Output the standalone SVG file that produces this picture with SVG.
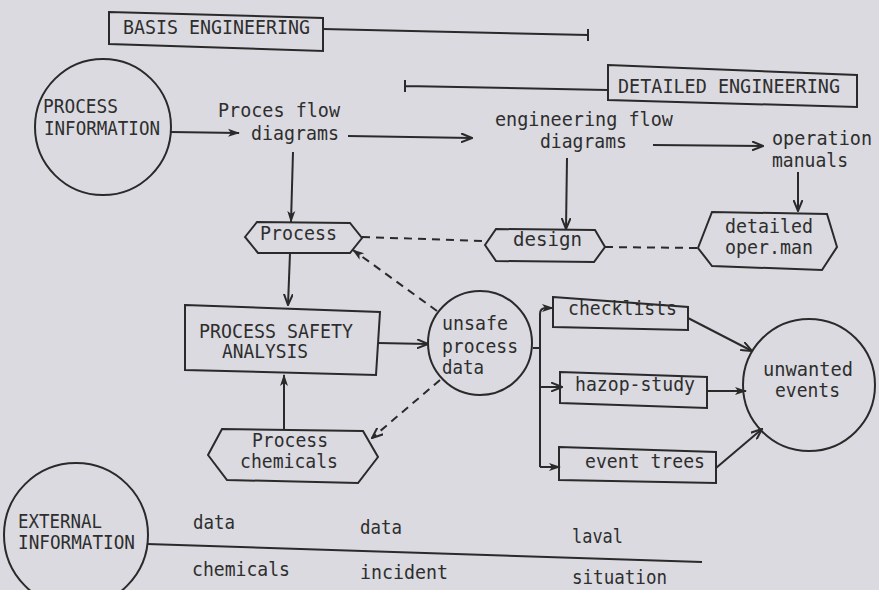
<svg xmlns="http://www.w3.org/2000/svg" width="879" height="590" viewBox="0 0 879 590">
<defs>
<style>
.bg{fill:#dadae0}
.sh{fill:none;stroke:#2a2a2a;stroke-width:2}
.ln{fill:none;stroke:#2a2a2a;stroke-width:2}
.ds{fill:none;stroke:#2a2a2a;stroke-width:2;stroke-dasharray:8,6}
.t{font-family:"DejaVu Sans Mono","Liberation Mono",monospace;font-size:19px;fill:#2e2e2e}
</style>
<marker id="ao" viewBox="0 0 12 10" refX="11" refY="5" markerWidth="12" markerHeight="10" markerUnits="userSpaceOnUse" orient="auto">
<path d="M0,0.5 L11,5 L0,9.5" fill="none" stroke="#2a2a2a" stroke-width="2"/>
</marker>
<marker id="af" viewBox="0 0 12 10" refX="11" refY="5" markerWidth="12" markerHeight="10" markerUnits="userSpaceOnUse" orient="auto">
<path d="M0,1 L12,5 L0,9 L3,5 Z" fill="#2a2a2a"/>
</marker>
</defs>
<rect class="bg" x="0" y="0" width="879" height="590"/>

<g id="connectors">
<path class="ln" d="M323,29 L588,35 M588,29 L588,41"/>
<path class="ln" d="M607,90 L405,86 M405,80 L405,92"/>
<path class="ln" d="M171,132 L239,133" marker-end="url(#af)"/>
<path class="ln" d="M348,136 L472,138" marker-end="url(#ao)"/>
<path class="ln" d="M653,145 L763,146" marker-end="url(#ao)"/>
<path class="ln" d="M293,152 L291,222" marker-end="url(#af)"/>
<path class="ln" d="M567,158 L566,229" marker-end="url(#ao)"/>
<path class="ln" d="M798,172 L798,211" marker-end="url(#ao)"/>
<path class="ln" d="M290,253 L288,305" marker-end="url(#ao)"/>
<path class="ln" d="M284,429 L284,375" marker-end="url(#af)"/>
<path class="ln" d="M378,343 L428,344" marker-end="url(#ao)"/>
<path class="ds" d="M362,237 L485,241"/>
<path class="ds" d="M605,247 L698,248"/>
<path class="ds" d="M437,311 L353,250" marker-end="url(#af)"/>
<path class="ds" d="M440,380 L372,438" marker-end="url(#ao)"/>
<path class="ln" d="M533,348 L540,348"/>
<path class="ln" d="M540,467 L540,314 Q540,308 546,308 L553,308" marker-end="url(#af)"/>
<path class="ln" d="M540,387 L562,387" marker-end="url(#ao)"/>
<path class="ln" d="M540,467 L560,467" marker-end="url(#af)"/>
<path class="ln" d="M688,318 L752,351" marker-end="url(#ao)"/>
<path class="ln" d="M707,391 L746,391" marker-end="url(#af)"/>
<path class="ln" d="M716,468 L762,429" marker-end="url(#ao)"/>
<path class="ln" d="M147,544 L702,562"/>
</g>

<g id="basis-engineering">
<polygon class="sh" points="109,12 323,18 323,51 109,44"/>
<text class="t" x="123" y="34" textLength="187" lengthAdjust="spacingAndGlyphs">BASIS ENGINEERING</text>
</g>
<g id="detailed-engineering">
<polygon class="sh" points="608,65 857,75 857,107 608,100"/>
<text class="t" x="618" y="93" textLength="222" lengthAdjust="spacingAndGlyphs">DETAILED ENGINEERING</text>
</g>
<g id="process-information">
<circle class="sh" cx="103" cy="127" r="68"/>
<text class="t" x="43" y="113" textLength="75" lengthAdjust="spacingAndGlyphs">PROCESS</text>
<text class="t" x="44" y="135" textLength="116" lengthAdjust="spacingAndGlyphs">INFORMATION</text>
</g>
<g id="proces-flow-diagrams">
<text class="t" x="218" y="117" textLength="122" lengthAdjust="spacingAndGlyphs">Proces flow</text>
<text class="t" x="251" y="140" textLength="88" lengthAdjust="spacingAndGlyphs">diagrams</text>
</g>
<g id="engineering-flow-diagrams">
<text class="t" x="495" y="126" textLength="178" lengthAdjust="spacingAndGlyphs">engineering flow</text>
<text class="t" x="540" y="148" textLength="87" lengthAdjust="spacingAndGlyphs">diagrams</text>
</g>
<g id="operation-manuals">
<text class="t" x="772" y="145" textLength="100" lengthAdjust="spacingAndGlyphs">operation</text>
<text class="t" x="772" y="167" textLength="76" lengthAdjust="spacingAndGlyphs">manuals</text>
</g>
<g id="process">
<polygon class="sh" points="245,237 257,222 350,223 362,238 350,253 258,253"/>
<text class="t" x="260" y="240" textLength="77" lengthAdjust="spacingAndGlyphs">Process</text>
</g>
<g id="design">
<polygon class="sh" points="485,245 496,229 595,230 605,247 594,262 496,261"/>
<text class="t" x="513" y="246" textLength="69" lengthAdjust="spacingAndGlyphs">design</text>
</g>
<g id="detailed-oper-man">
<polygon class="sh" points="698,248 712,212 827,214 837,247 822,270 712,266"/>
<text class="t" x="725" y="233" textLength="88" lengthAdjust="spacingAndGlyphs">detailed</text>
<text class="t" x="725" y="254" textLength="88" lengthAdjust="spacingAndGlyphs">oper.man</text>
</g>
<g id="process-safety-analysis">
<polygon class="sh" points="185,305 380,312 376,375 185,370"/>
<text class="t" x="199" y="338" textLength="154" lengthAdjust="spacingAndGlyphs">PROCESS SAFETY</text>
<text class="t" x="222" y="358" textLength="86" lengthAdjust="spacingAndGlyphs">ANALYSIS</text>
</g>
<g id="unsafe-process-data">
<circle class="sh" cx="480" cy="343" r="52"/>
<text class="t" x="442" y="330" textLength="66" lengthAdjust="spacingAndGlyphs">unsafe</text>
<text class="t" x="442" y="353" textLength="76" lengthAdjust="spacingAndGlyphs">process</text>
<text class="t" x="442" y="374" textLength="42" lengthAdjust="spacingAndGlyphs">data</text>
</g>
<g id="process-chemicals">
<polygon class="sh" points="208,455 222,429 363,431 378,457 358,483 227,480"/>
<text class="t" x="252" y="447" textLength="76" lengthAdjust="spacingAndGlyphs">Process</text>
<text class="t" x="240" y="468" textLength="98" lengthAdjust="spacingAndGlyphs">chemicals</text>
</g>
<g id="checklists">
<polygon class="sh" points="553,297 688,307 688,330 553,327"/>
<text class="t" x="568" y="315" textLength="109" lengthAdjust="spacingAndGlyphs">checklists</text>
</g>
<g id="hazop-study">
<polygon class="sh" points="560,372 707,377 707,408 560,403"/>
<text class="t" x="575" y="391" textLength="120" lengthAdjust="spacingAndGlyphs">hazop-study</text>
</g>
<g id="event-trees">
<polygon class="sh" points="559,447 716,452 716,483 559,480"/>
<text class="t" x="585" y="468" textLength="120" lengthAdjust="spacingAndGlyphs">event trees</text>
</g>
<g id="unwanted-events">
<circle class="sh" cx="809" cy="385" r="66"/>
<text class="t" x="763" y="376" textLength="90" lengthAdjust="spacingAndGlyphs">unwanted</text>
<text class="t" x="775" y="397" textLength="65" lengthAdjust="spacingAndGlyphs">events</text>
</g>
<g id="external-information">
<circle class="sh" cx="76" cy="535" r="72"/>
<text class="t" x="18" y="528" textLength="84" lengthAdjust="spacingAndGlyphs">EXTERNAL</text>
<text class="t" x="18" y="549" textLength="117" lengthAdjust="spacingAndGlyphs">INFORMATION</text>
</g>
<g id="external-labels">
<text class="t" x="193" y="529" textLength="42" lengthAdjust="spacingAndGlyphs">data</text>
<text class="t" x="360" y="534" textLength="42" lengthAdjust="spacingAndGlyphs">data</text>
<text class="t" x="572" y="543" textLength="51" lengthAdjust="spacingAndGlyphs">laval</text>
<text class="t" x="192" y="576" textLength="98" lengthAdjust="spacingAndGlyphs">chemicals</text>
<text class="t" x="360" y="579" textLength="88" lengthAdjust="spacingAndGlyphs">incident</text>
<text class="t" x="572" y="584" textLength="95" lengthAdjust="spacingAndGlyphs">situation</text>
</g>
</svg>
